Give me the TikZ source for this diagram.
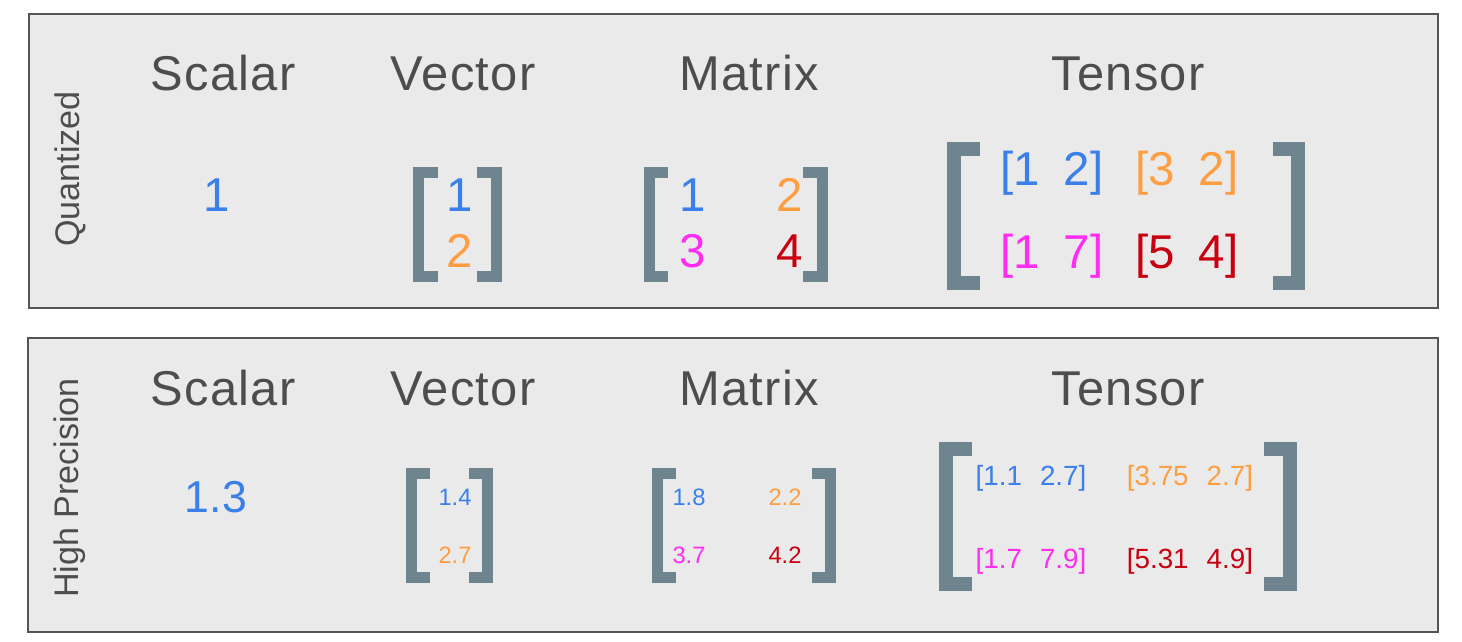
\documentclass[tikz,border=0pt]{standalone}
\usepackage{fontspec}
\setmainfont{Liberation Sans}
\newfontfamily\headfont[LetterSpace=2.5]{Liberation Sans}
\usetikzlibrary{calc}
\definecolor{frame}{RGB}{85,85,85}
\definecolor{panel}{RGB}{234,234,234}
\definecolor{ink}{RGB}{77,77,77}
\definecolor{brk}{RGB}{110,132,143}
\definecolor{vblue}{RGB}{59,127,234}
\definecolor{vorange}{RGB}{255,158,64}
\definecolor{vpink}{RGB}{255,44,242}
\definecolor{vred}{RGB}{200,0,15}

\begin{document}
\begin{tikzpicture}[x=0.01cm,y=-0.01cm,
    title/.style={anchor=base,inner sep=0pt,text=ink,font=\headfont\fontsize{13.9}{16}\selectfont},
    side/.style={rotate=90,inner sep=0pt,text=ink,font=\fontsize{9.7}{12}\selectfont},
    qval/.style={anchor=base,inner sep=0pt,font=\fontsize{13.5}{16}\selectfont},
    hval/.style={anchor=base,inner sep=0pt,font=\fontsize{6.75}{8}\selectfont},
    tval/.style={anchor=base,inner sep=0pt,font=\fontsize{7.9}{9}\selectfont}]
    \useasboundingbox (0,0) rectangle (1462,641);

    % the two panels
    \draw[frame,fill=panel,line width=0.45pt] (29,14) rectangle (1438,308);
    \draw[frame,fill=panel,line width=0.45pt] (28,338) rectangle (1438,632);
    \node[side] (quant) at (70,169) {Quantized};
    \node[side] (hiprec) at (70,488) {High Precision};

    % column headers
    \foreach \y/\r in {90/q,405/h}
      \foreach \x/\name in {223/Scalar,463/Vector,749/Matrix,1128/Tensor}
        \node[title] (\r-\name) at (\x,\y) {\name};

    % brackets: outer x / serif end x / top / bottom / thickness / side
    \foreach \xo/\xs/\ya/\yb/\t/\s in {
      413/438/167/282/11/1, 502/477/167/282/11/-1,
      644/668/167/282/11/1, 828/803/167/282/11/-1,
      947/980/142/290/14/1, 1305/1273/142/290/14/-1,
      406/430/468/583/11/1, 493/469/468/583/11/-1,
      652/676/468/583/11/1, 836/812/468/583/11/-1,
      939/972/442/591/14/1, 1297/1264/442/591/14/-1}
      \draw[brk,line width=\t*0.2845pt]
        (\xs,{\ya+\t/2}) -- ({\xo+\s*\t/2},{\ya+\t/2})
        -- ({\xo+\s*\t/2},{\yb-\t/2}) -- (\xs,{\yb-\t/2});

    % quantized values
    \foreach \x/\y/\v/\c [count=\i] in {
      217/211/1/vblue,
      460/211/1/vblue, 460/267/2/vorange,
      693/211/1/vblue, 790/211/2/vorange, 693/267/3/vpink, 790/267/4/vred,
      1052/185/{[1\hspace{.5em}2]}/vblue, 1187/185/{[3\hspace{.5em}2]}/vorange,
      1052/268/{[1\hspace{.5em}7]}/vpink, 1187/268/{[5\hspace{.5em}4]}/vred}
      \node[qval,text=\c] (q\i) at (\x,\y) {\v};

    % high precision values
    \node[anchor=base,inner sep=0pt,text=vblue,font=\fontsize{12.7}{15}\selectfont]
      (h0) at (216,512) {1.3};
    \foreach \x/\y/\v/\c [count=\i] in {
      455/505/1.4/vblue, 455/563/2.7/vorange,
      689/505/1.8/vblue, 785/505/2.2/vorange, 689/563/3.7/vpink, 785/563/4.2/vred}
      \node[hval,text=\c] (h\i) at (\x,\y) {\v};
    \foreach \x/\y/\v/\c [count=\i] in {
      1031/485/{[1.1\hspace{.65em}2.7]}/vblue, 1190/485/{[3.75\hspace{.65em}2.7]}/vorange,
      1031/568/{[1.7\hspace{.65em}7.9]}/vpink, 1190/568/{[5.31\hspace{.65em}4.9]}/vred}
      \node[tval,text=\c] (t\i) at (\x,\y) {\v};
\end{tikzpicture}
\end{document}
